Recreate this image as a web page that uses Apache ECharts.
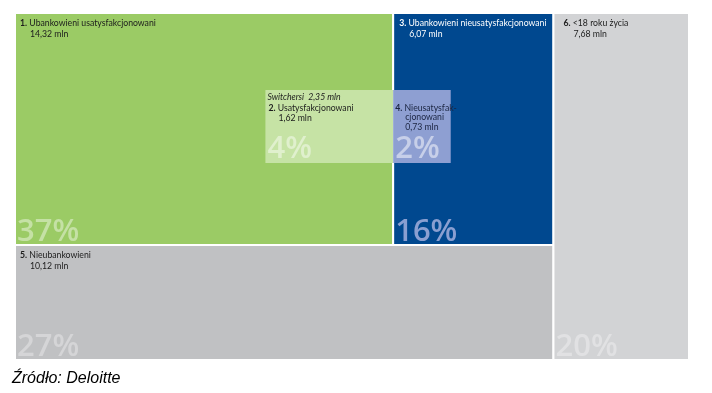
<!DOCTYPE html>
<html><head><meta charset="utf-8">
<script src="https://cdn.jsdelivr.net/npm/echarts@6/dist/echarts.min.js"></script>
<style>html,body{margin:0;padding:0;background:#fff}#c{width:712px;height:393px}</style>
</head><body><div id="c"></div>
<script>
// ---- data ----
const blockNumbers = [1, 3, 5, 6];
const blockNames = ['Ubankowieni usatysfakcjonowani', 'Ubankowieni nieusatysfakcjonowani', 'Nieubankowieni', '<18 roku życia'];
const blockValues = [14.32, 6.07, 10.12, 7.68];   // mln
const blockShares = [37, 16, 27, 20];              // %
const switcherTitle = 'Switchersi';
const switcherTotal = 2.35;                        // mln
const switcherNumbers = [2, 4];
const switcherNames = ['Usatysfakcjonowani', 'Nieusatysfak-\ncjonowani'];
const switcherValues = [1.62, 0.73];               // mln
const switcherShares = [4, 2];                     // %
const sourceText = 'Źródło: Deloitte';

// ---- styles ----
const blockFills = ['#9bcb65', '#00488f', '#c0c1c3', '#d2d3d5'];
const blockText = ['#1c1c1c', '#ffffff', '#1c1c1c', '#1c1c1c'];
const blockBig = ['rgba(255,255,255,0.42)', '#8a9fd1', 'rgba(255,255,255,0.33)', 'rgba(255,255,255,0.33)'];
const blockInset = [5, 6, 5, 10];
const swFills = ['#c6e3a5', '#8e9fd2'];
const swBig = ['rgba(255,255,255,0.45)', 'rgba(255,255,255,0.5)'];
const FONT = 'Lato, "Open Sans", sans-serif';
const FS = 8.7;
const BIGFONT = '"Open Sans", sans-serif';

const fmt = v => v.toFixed(2).replace('.', ',') + ' mln';

// ---- layout from values (area proportional) ----
const total = blockValues.reduce((a, b) => a + b, 0);
const leftW = total - blockValues[3];
const h5 = blockValues[2] / leftW;
const topH = 1 - h5;
const w1 = blockValues[0] / topH;
const w3 = blockValues[1] / topH;
const blockRects = [
  [0, w1, h5, 1],
  [w1, w1 + w3, h5, 1],
  [0, leftW, 0, h5],
  [leftW, total, 0, 1]
].map((r, i) => r.concat([i]));

const swBoxWidth = 10.5, swTop = 0.778, swBottom = 0.568;
const swSum = switcherValues.reduce((a, b) => a + b, 0);
const swG = swBoxWidth * switcherValues[0] / swSum;
const swB = swBoxWidth * switcherValues[1] / swSum;
const swRects = [
  [w1 - swG, w1, swBottom, swTop, 0],
  [w1, w1 + swB, swBottom, swTop, 1]
];

function box(api) {
  const tl = api.coord([api.value(0), api.value(3)]);
  const br = api.coord([api.value(1), api.value(2)]);
  return { x: tl[0], y: tl[1], w: br[0] - tl[0], h: br[1] - tl[1] };
}

function small(col, extra) {
  return Object.assign({ fill: col, font: FS + 'px ' + FONT, verticalAlign: 'middle' }, extra || {});
}

function renderBlock(params, api) {
  const i = api.value(4);
  const b = box(api);
  const col = blockText[i];
  const ins = blockInset[i];
  return {
    type: 'group', children: [
      { type: 'rect', shape: { x: b.x, y: b.y, width: b.w, height: b.h },
        style: { fill: blockFills[i], stroke: '#ffffff', lineWidth: 2 } },
      { type: 'text', x: b.x + ins, y: b.y + 10,
        style: small(col, { text: '{b|' + blockNumbers[i] + '.} ' + blockNames[i],
          rich: { b: { fontWeight: 'bold', fontSize: FS, fontFamily: FONT, fill: col } } }) },
      { type: 'text', x: b.x + ins + 10, y: b.y + 21,
        style: small(col, { text: fmt(blockValues[i]) }) },
      { type: 'text', x: b.x + 2, y: b.y + b.h + 3,
        style: { text: blockShares[i] + '%', fill: blockBig[i], font: '600 31px ' + BIGFONT, verticalAlign: 'bottom' } }
    ]
  };
}

function renderSwitch(params, api) {
  const i = api.value(4);
  const b = box(api);
  const children = [
    { type: 'rect', shape: { x: b.x, y: b.y, width: b.w, height: b.h },
      style: { fill: swFills[i] } }
  ];
  const col = i === 0 ? '#1c1c1c' : '#1a2440';
  if (i === 0) {
    children.push({ type: 'text', x: b.x + 2, y: b.y + 7,
      style: small(col, { text: switcherTitle + '  ' + fmt(switcherTotal), font: 'italic ' + FS + 'px ' + FONT }) });
  }
  const lines = switcherNames[i].split('\n');
  let ty = b.y + 18;
  const ins = i === 0 ? 3 : 2;
  children.push({ type: 'text', x: b.x + ins, y: ty,
    style: small(col, { text: '{b|' + switcherNumbers[i] + '.} ' + lines[0],
      rich: { b: { fontWeight: 'bold', fontSize: FS, fontFamily: FONT, fill: col } } }) });
  for (let k = 1; k < lines.length; k++) {
    ty += 9;
    children.push({ type: 'text', x: b.x + ins + 10, y: ty, style: small(col, { text: lines[k] }) });
  }
  ty += 10;
  children.push({ type: 'text', x: b.x + ins + 10, y: ty, style: small(col, { text: fmt(switcherValues[i]) }) });
  children.push({ type: 'text', x: b.x + 2, y: b.y + b.h + 2,
    style: { text: switcherShares[i] + '%', fill: swBig[i], font: '600 31px ' + BIGFONT, verticalAlign: 'bottom' } });
  return { type: 'group', children };
}

const chart = echarts.init(document.getElementById('c'), null, { renderer: 'canvas' });
chart.setOption({
  animation: false,
  backgroundColor: '#ffffff',
  grid: { left: 15, right: 23, top: 13, bottom: 33 },
  xAxis: { type: 'value', min: 0, max: total, show: false },
  yAxis: { type: 'value', min: 0, max: 1, show: false },
  graphic: [{ type: 'text', left: 12, top: 371,
    style: { text: sourceText, fill: '#000', font: 'italic 16px "Liberation Sans", sans-serif' } }],
  series: [
    { type: 'custom', renderItem: renderBlock, data: blockRects, encode: { x: [0, 1], y: [2, 3] }, clip: false },
    { type: 'custom', renderItem: renderSwitch, data: swRects, encode: { x: [0, 1], y: [2, 3] }, clip: false, z: 5 }
  ]
});
</script></body></html>
